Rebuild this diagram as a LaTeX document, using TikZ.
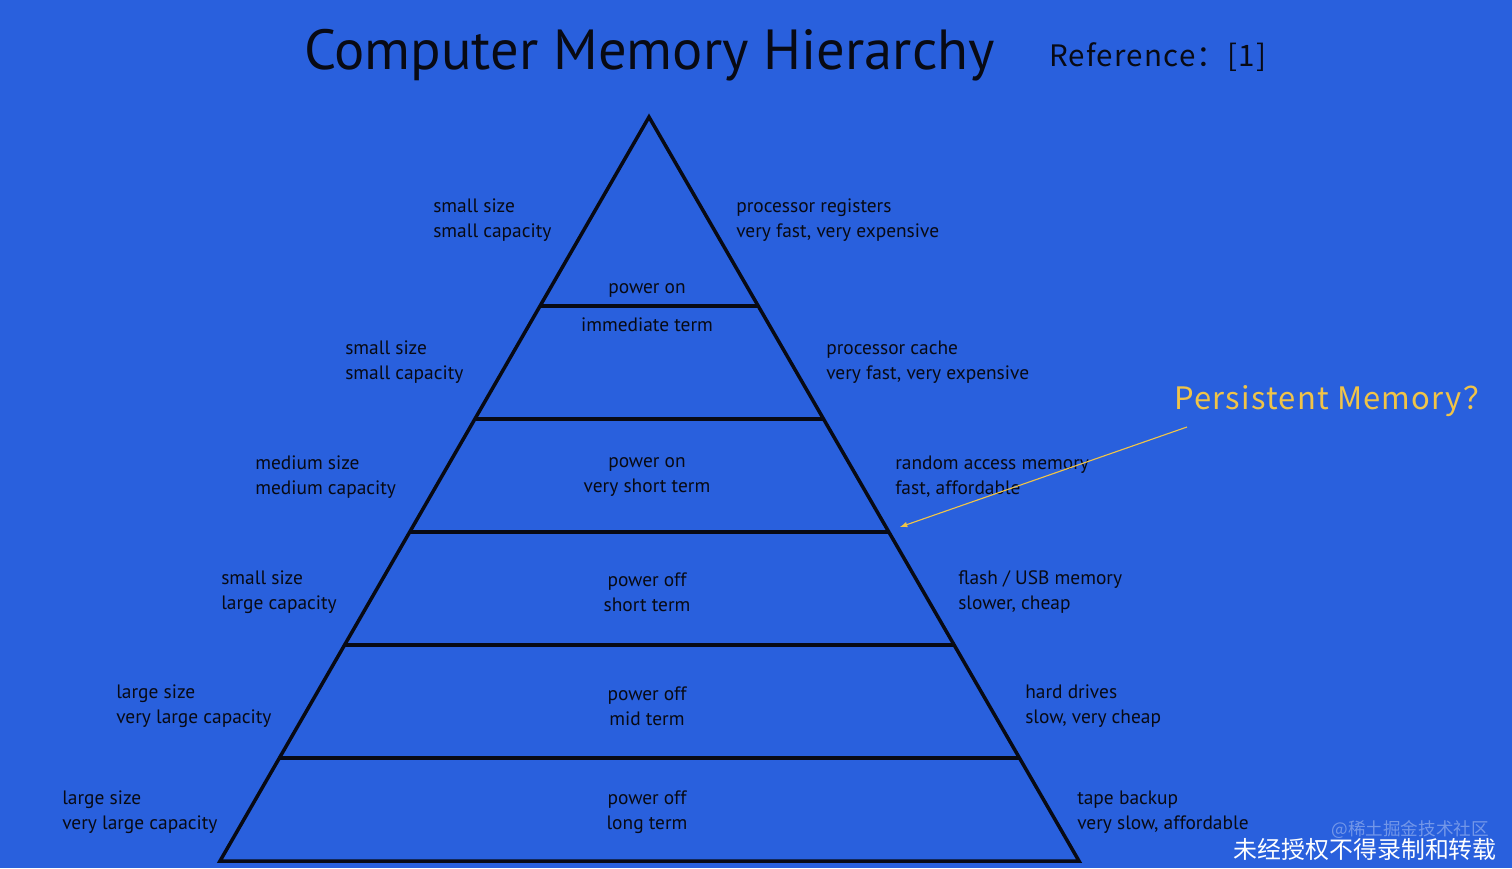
\documentclass[tikz,border=0pt]{standalone}
\usepackage{fontspec}
\setmainfont{PT Sans}
\newfontfamily\cjkfont[LetterSpace=4]{Noto Sans CJK SC}
\newfontfamily\cjkplain{Noto Sans CJK SC}
\usepackage{tikz}
\usetikzlibrary{calc, positioning}

\definecolor{bgblue}{RGB}{41,96,221}
\definecolor{pmyellow}{RGB}{240,196,72}
\definecolor{inkdark}{RGB}{8,10,20}

\tikzset{
    lbl/.style={text=inkdark, align=left, anchor=west, inner sep=0pt,
        font=\fontsize{13.8}{17.8}\selectfont},
    midlbl/.style={text=inkdark, align=center, inner sep=0pt,
        font=\fontsize{13.8}{17.8}\selectfont},
    layer/.style={line width=2.5pt, draw=inkdark}
}

\begin{document}
\begin{tikzpicture}[x=0.025cm, y=-0.025cm, >=latex]
    % 1. Nền xanh và khung hình
    \fill[bgblue] (0,0) rectangle (1512,868);
    \useasboundingbox (0,0) rectangle (1512,868);

    % 2. Tiêu đề
    \node[text=inkdark, anchor=west, inner sep=0pt, font=\fontsize{40.2}{42}\selectfont] (title) at (304,55) {Computer Memory Hierarchy};
    \node[text=inkdark, anchor=west, inner sep=0pt, font=\cjkfont\fontsize{21}{24}\selectfont] (ref) at (1049,57) {Reference：[1]};

    % 3. Kim tự tháp
    \coordinate (apex) at (649,117);
    \coordinate (baseL) at (220,861);
    \coordinate (baseR) at (1079,861);
    \draw[layer, line join=miter] (baseL) -- (apex) -- (baseR) -- cycle;
    \foreach \y in {306,419,532,645,758}
        \draw[layer] ({649-0.5766*(\y-117)},\y) -- ({649+0.578*(\y-117)},\y);

    % 4. Nhãn bên trái
    \node[lbl] (l1) at (433,220) {small size\\small capacity};
    \node[lbl] (l2) at (345,362) {small size\\small capacity};
    \node[lbl] (l3) at (255,477) {medium size\\medium capacity};
    \node[lbl] (l4) at (221,592) {small size\\large capacity};
    \node[lbl] (l5) at (116,706) {large size\\very large capacity};
    \node[lbl] (l6) at (62,812) {large size\\very large capacity};

    % 5. Nhãn ở giữa
    \node[midlbl] (m1) at (647,290) {power on};
    \node[midlbl] (m1b) at (647,325) {immediate term};
    \node[midlbl] (m3) at (647,477) {power on\\very short term};
    \node[midlbl] (m4) at (647,592) {power off\\short term};
    \node[midlbl] (m5) at (647,706) {power off\\mid term};
    \node[midlbl] (m6) at (647,812) {power off\\long term};

    % 6. Nhãn bên phải
    \node[lbl] (r1) at (736,220) {processor registers\\very fast, very expensive};
    \node[lbl] (r2) at (826,362) {processor cache\\very fast, very expensive};
    \node[lbl] (r3) at (895,477) {random access memory\\fast, affordable};
    \node[lbl] (r4) at (958,592) {flash / USB memory\\slower, cheap};
    \node[lbl] (r5) at (1025,706) {hard drives\\slow, very cheap};
    \node[lbl] (r6) at (1077,812) {tape backup\\very slow, affordable};

    % 7. Persistent Memory và mũi tên
    \node[text=pmyellow, anchor=west, inner sep=0pt, font=\cjkfont\fontsize{22}{24}\selectfont] (pm) at (1174,401) {Persistent Memory？};
    \coordinate (pmtail) at (1187,427);
    \coordinate (pmhead) at (900,527);
    \draw[->, pmyellow, line width=0.8pt] (pmtail) -- (pmhead);

    % 8. Chữ ở góc dưới
    \node[text=white, text opacity=0.35, anchor=east, inner sep=0pt, font=\cjkplain\fontsize{12.5}{14}\selectfont] (wm1) at (1489,830) {@稀土掘金技术社区};
    \node[text=white, anchor=east, inner sep=0pt, font=\cjkplain\fontsize{17}{19}\selectfont] (wm2) at (1497,849) {未经授权不得录制和转载};
\end{tikzpicture}
\end{document}
